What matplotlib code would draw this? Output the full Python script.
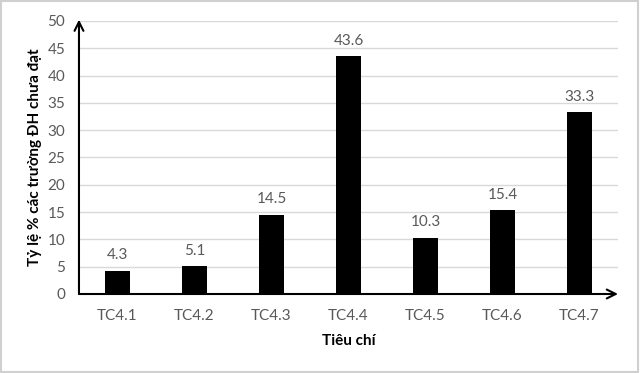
import matplotlib.pyplot as plt
from matplotlib.patches import Rectangle

categories = ['TC4.1', 'TC4.2', 'TC4.3', 'TC4.4', 'TC4.5', 'TC4.6', 'TC4.7']
values = [4.3, 5.1, 14.5, 43.6, 10.3, 15.4, 33.3]
yticks = [0, 5, 10, 15, 20, 25, 30, 35, 40, 45, 50]

plt.rcParams['font.family'] = ['Lato', 'DejaVu Sans']
grey = '#595959'

fig = plt.figure(figsize=(6.4, 3.73), dpi=100)
ax = fig.add_axes([0.1234, 0.2118, 0.8422, 0.7319])

x = list(range(len(categories)))
ax.bar(x, values, width=0.32, color='black', zorder=3)
for xi, v in zip(x, values):
    ax.annotate(f'{v}', (xi, v), xytext=(0, 6), textcoords='offset points',
                ha='center', va='bottom', fontsize=11, color=grey)

ax.set_xlim(-0.5, 6.5)
ax.set_ylim(0, 50)
ax.set_yticks(yticks)
ax.set_xticks(x)
ax.set_xticklabels(categories)
ax.tick_params(axis='both', length=0, labelsize=11, labelcolor=grey)
ax.tick_params(axis='x', pad=11)
ax.tick_params(axis='y', pad=10)

ax.yaxis.grid(True, color='#d9d9d9', linewidth=1)
ax.set_axisbelow(True)
for s in ax.spines.values():
    s.set_visible(False)

# axis arrows
ax.annotate('', xy=(0, 1.005), xycoords='axes fraction', xytext=(0, 0),
            arrowprops=dict(arrowstyle='->', color='black', lw=1.5,
                            shrinkA=0, shrinkB=0, mutation_scale=16))
ax.annotate('', xy=(1.0, 0), xycoords='axes fraction', xytext=(0, 0),
            arrowprops=dict(arrowstyle='->', color='black', lw=1.5,
                            shrinkA=0, shrinkB=0, mutation_scale=16))

ax.set_ylabel('Tỷ lệ % các trường ĐH chưa đạt', fontsize=11, fontweight='bold',
              labelpad=4)
ax.set_xlabel('Tiêu chí', fontsize=11, fontweight='bold', labelpad=8)

fig.patches.append(Rectangle((0.002, 0.003), 0.995, 0.993, transform=fig.transFigure,
                             fill=False, edgecolor='#d0d0d0', linewidth=1.5))

fig.savefig('out.png', dpi=100)
